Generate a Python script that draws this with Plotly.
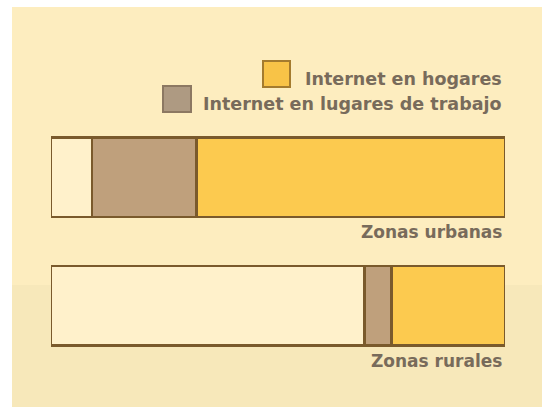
import plotly.graph_objects as go

# ---- data ----
zonas = ["Zonas urbanas", "Zonas rurales"]
sin_acceso = [9, 69]          # blank (no access) share, %
lugares_trabajo = [23, 6]     # Internet en lugares de trabajo, %
hogares = [68, 25]            # Internet en hogares, %
legend_labels = ["Internet en hogares", "Internet en lugares de trabajo"]

# ---- styling ----
W, H = 542, 407
ML, MR, MT, MB = 51, 37, 113, 37
BG = "#fdedbf"
C_HOME = "#fcca4f"
C_WORK = "#bfa07c"
C_BLANK = "#fff1cb"
C_EDGE = "#7a5a2c"
C_TEXT = "#786b5b"
FONT = "DejaVu Sans"
FS = 17.5

def px_x(p):
    return (p - ML) / (W - ML - MR)

def px_y(p):
    return (H - MB - p) / (H - MT - MB)

fig = go.Figure()
for vals, col in [(sin_acceso, C_BLANK), (lugares_trabajo, C_WORK), (hogares, C_HOME)]:
    fig.add_trace(go.Bar(
        y=zonas, x=vals, orientation="h", width=0.615,
        marker=dict(color=col, line=dict(color=C_EDGE, width=2.5)),
        showlegend=False, hoverinfo="skip",
    ))

shapes = [
    # lighter, mottled-looking lower band
    dict(type="rect", xref="paper", yref="paper", layer="below",
         x0=px_x(0), x1=px_x(W), y0=px_y(H), y1=px_y(285),
         fillcolor="#f4e4b8", opacity=0.6, line=dict(width=0)),
    # white frame strips (top / left)
    dict(type="rect", xref="paper", yref="paper", layer="above",
         x0=px_x(0), x1=px_x(W), y0=px_y(7), y1=px_y(0),
         fillcolor="white", line=dict(width=0)),
    dict(type="rect", xref="paper", yref="paper", layer="above",
         x0=px_x(0), x1=px_x(12), y0=px_y(H), y1=px_y(0),
         fillcolor="white", line=dict(width=0)),
    # legend swatches
    dict(type="rect", xref="paper", yref="paper",
         x0=px_x(263), x1=px_x(290), y0=px_y(87), y1=px_y(61),
         fillcolor="#f8c347", line=dict(color="#a47b2e", width=2)),
    dict(type="rect", xref="paper", yref="paper",
         x0=px_x(163), x1=px_x(191), y0=px_y(112), y1=px_y(86),
         fillcolor="#ae9a82", line=dict(color="#8c7862", width=2)),
]

tfont = dict(family=FONT, size=FS, color=C_TEXT, weight="bold")
annotations = [
    dict(text=legend_labels[0], xref="paper", yref="paper",
         x=px_x(504), y=px_y(79), xanchor="right", yanchor="middle",
         showarrow=False, font=tfont),
    dict(text=legend_labels[1], xref="paper", yref="paper",
         x=px_x(504), y=px_y(104), xanchor="right", yanchor="middle",
         showarrow=False, font=tfont),
]
for z in zonas:
    annotations.append(dict(
        text=z, xref="paper", yref="y", x=px_x(504), y=z, yshift=-55,
        xanchor="right", yanchor="middle", showarrow=False,
        font=dict(family=FONT, size=17, color=C_TEXT, weight="bold")))

fig.update_layout(
    width=W, height=H,
    margin=dict(l=ML, r=MR, t=MT, b=MB, pad=0),
    barmode="stack",
    paper_bgcolor=BG, plot_bgcolor="rgba(0,0,0,0)",
    xaxis=dict(range=[0, 100], visible=False, fixedrange=True),
    yaxis=dict(range=[1.5, -0.5], visible=False, fixedrange=True),
    shapes=shapes, annotations=annotations,
    font=dict(family=FONT, color=C_TEXT),
)

fig.write_html(
    "out.html",
    config={"displayModeBar": False},
    post_script=(
        "document.body.style.margin='0';"
        "document.body.style.overflow='hidden';"
        "document.body.style.background='" + BG + "';"
        "document.documentElement.style.background='" + BG + "';"
    ),
)
